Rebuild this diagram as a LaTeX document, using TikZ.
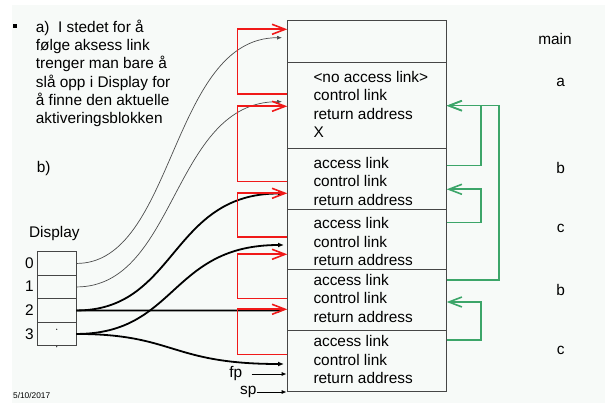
\documentclass[tikz,border=0pt]{standalone}
\usepackage{fontspec}
\setmainfont{Liberation Sans}
\usetikzlibrary{arrows.meta}
\definecolor{bg}{RGB}{247,250,248}
\definecolor{linkred}{RGB}{240,25,25}
\definecolor{linkgreen}{RGB}{60,165,105}
\definecolor{boxgray}{RGB}{70,70,70}
\begin{document}
\begin{tikzpicture}[x=1pt,y=-1pt,
  font=\fontsize{15.4}{18.4}\selectfont,
  frame/.style={draw=boxgray, line width=1pt, minimum width=159.4pt, inner sep=0pt},
  txt/.style={anchor=base west, inner sep=0pt},
  lbl/.style={anchor=base, inner sep=0pt},
  cell/.style={draw=boxgray, line width=0.9pt, minimum width=38.7pt, minimum height=23.5pt, inner sep=0pt},
  ctl/.style={draw=linkred, line width=1.6pt, -{Straight Barb[length=13pt,width=10pt]}},
  acc/.style={draw=linkgreen, line width=1.6pt, -{Straight Barb[length=13pt,width=10pt]}},
  ptr/.style={draw=black, line width=1.8pt, -{Latex[length=6pt,width=5pt]}},
  thinptr/.style={draw=black!70, line width=0.7pt, -{Latex[length=5pt,width=4pt]}},
  regptr/.style={draw=black, line width=1pt, -{Latex[length=5pt,width=4pt]}}
]
\useasboundingbox (0,0) rectangle (605,403);
\fill[bg] (12.3,4.7) rectangle (605,403);

% bullet and note
\node[fill=black, minimum size=4pt, inner sep=0pt] (bullet) at (15.3,26.3) {};
\node[txt] (n1) at (35.7,32.2) {a)\ \ I stedet for å};
\node[txt] (n2) at (35.7,50.5) {følge aksess link};
\node[txt] (n3) at (35.7,68.8) {trenger man bare å};
\node[txt] (n4) at (35.7,87.2) {slå opp i Display for};
\node[txt] (n5) at (35.7,105.5) {å finne den aktuelle};
\node[txt] (n6) at (35.7,123.8) {aktiveringsblokken};
\node[txt] (nb) at (36.7,172.2) {b)};

% stack frames
\node[frame, minimum height=41.6pt] (f0) at (367,41.5) {};
\node[frame, minimum height=86.7pt] (f1) at (367,105.65) {};
\node[frame, minimum height=61pt] (f2) at (367,179.5) {};
\node[frame, minimum height=60pt] (f3) at (367,240) {};
\node[frame, minimum height=60.3pt] (f4) at (367,300.15) {};
\node[frame, minimum height=60.7pt] (f5) at (367,360.65) {};

\node[txt] (f1a) at (313.3,82.5) {<no access link>};
\node[txt] (f1b) at (313.3,101) {control link};
\node[txt] (f1c) at (313.3,119.5) {return address};
\node[txt] (f1d) at (313.3,138) {X};
\node[txt] (f2a) at (313.3,168.2) {access link};
\node[txt] (f2b) at (313.3,186.7) {control link};
\node[txt] (f2c) at (313.3,205.2) {return address};
\node[txt] (f3a) at (313.3,228.8) {access link};
\node[txt] (f3b) at (313.3,247.3) {control link};
\node[txt] (f3c) at (313.3,265.8) {return address};
\node[txt] (f4a) at (313.3,285.5) {access link};
\node[txt] (f4b) at (313.3,304) {control link};
\node[txt] (f4c) at (313.3,322.5) {return address};
\node[txt] (f5a) at (313.3,346.5) {access link};
\node[txt] (f5b) at (313.3,365) {control link};
\node[txt] (f5c) at (313.3,383.5) {return address};

% right labels
\node[lbl] (lmain) at (555,45) {main};
\node[lbl] (la) at (560.7,86.3) {a};
\node[lbl] (lb1) at (560.7,173.5) {b};
\node[lbl] (lc1) at (560.7,233) {c};
\node[lbl] (lb2) at (560.7,295.5) {b};
\node[lbl] (lc2) at (560.7,354.7) {c};

% display
\node[lbl] (disp) at (54.3,237.2) {Display};
\node[cell] (d0) at (56.65,263.45) {};
\node[cell] (d1) at (56.65,286.95) {};
\node[cell] (d2) at (56.65,310.45) {};
\node[cell] (d3) at (56.65,333.95) {};
\node[lbl] (i0) at (29.3,268.2) {0};
\node[lbl] (i1) at (29.3,291.8) {1};
\node[lbl] (i2) at (29.3,315.8) {2};
\node[lbl] (i3) at (29.3,339.5) {3};
\fill (56.7,329.3) circle (0.6pt) (56.7,346.7) circle (0.6pt);

% named end points
\coordinate (t0) at (282,37.7);
\coordinate (t1) at (282,101.7);
\coordinate (tA) at (284,193.5);
\coordinate (tB) at (284,245);
\coordinate (tC) at (284,310.4);
\coordinate (tD) at (284,364);

% display pointers
\draw[thinptr] (d0.east) .. controls (175,263.45) and (170,37.7) .. (t0);
\draw[thinptr] (d1.east) .. controls (177,286.95) and (172,101.7) .. (t1);
\draw[ptr] (d2.east) .. controls (177,310.45) and (170,193.5) .. (tA);
\draw[ptr] (d3.east) .. controls (177,333.95) and (170,245) .. (tB);
\draw[ptr] (d2.east) -- (tC);
\draw[ptr] (d3.east) .. controls (175,333.95) and (170,364) .. (tD);

% control links (red)
\coordinate (c1s) at (287.3,94);    \coordinate (c1t) at (287.3,29.3);
\coordinate (c2s) at (287.3,181.7); \coordinate (c2t) at (287.3,106.3);
\coordinate (c3s) at (287.3,237.3); \coordinate (c3t) at (287.3,193.3);
\coordinate (c4s) at (287.3,298.7); \coordinate (c4t) at (287.3,254.3);
\coordinate (c5s) at (287.3,354.3); \coordinate (c5t) at (287.3,309.3);
\draw[ctl] (c1s) -- (237.3,94) |- (c1t);
\draw[ctl] (c2s) -- (237.3,181.7) |- (c2t);
\draw[ctl] (c3s) -- (237.3,237.3) |- (c3t);
\draw[ctl] (c4s) -- (237.3,298.7) |- (c4t);
\draw[ctl] (c5s) -- (237.3,354.3) |- (c5t);

% access links (green)
\coordinate (a1s) at (446.7,165.7); \coordinate (a1t) at (446.7,105.7);
\coordinate (a2s) at (446.7,280);
\coordinate (a3s) at (446.7,222.7); \coordinate (a3t) at (446.7,189.3);
\coordinate (a4s) at (446.7,340);   \coordinate (a4t) at (446.7,302);
\draw[acc] (a1s) -- (480.7,165.7) |- (a1t);
\draw[acc] (a2s) -- (498.7,280) |- (a1t);
\draw[acc] (a3s) -- (480.7,222.7) |- (a3t);
\draw[acc] (a4s) -- (480.7,340) |- (a4t);

% fp / sp
\node[lbl] (fp) at (235.8,377.9) {fp};
\node[lbl] (sp) at (248.3,394.4) {sp};
\coordinate (fps) at (251.7,374); \coordinate (fpt) at (286.7,374);
\coordinate (sps) at (256.7,392); \coordinate (spt) at (286.7,392);
\draw[regptr] (fps) -- (fpt);
\draw[regptr] (sps) -- (spt);

% date
\node[anchor=base west, inner sep=0pt, font=\fontsize{8.3}{10}\selectfont] (date) at (13,398) {5/10/2017};
\end{tikzpicture}
\end{document}
